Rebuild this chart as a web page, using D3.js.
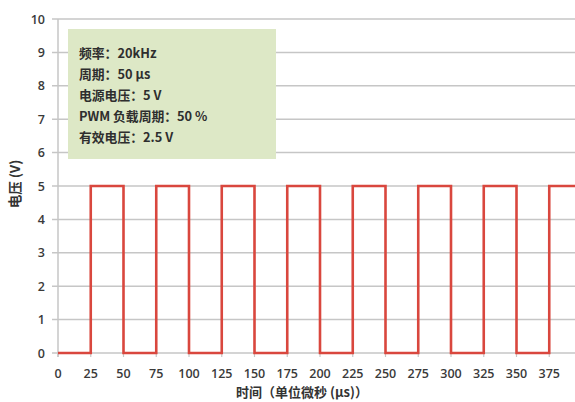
<!DOCTYPE html>
<html><head><meta charset="utf-8">
<script src="https://cdn.jsdelivr.net/npm/d3@7"></script>
<style>
html,body{margin:0;padding:0;background:#fff;overflow:hidden;}
svg{display:block;}
</style></head>
<body>
<svg id="chart" width="575" height="402"></svg>
<script>
// Data
const times = [0, 25, 25, 50, 50, 75, 75, 100, 100, 125, 125, 150, 150, 175, 175, 200, 200, 225, 225, 250, 250, 275, 275, 300, 300, 325, 325, 350, 350, 375, 375, 400];
const volts = [0, 0, 5, 5, 0, 0, 5, 5, 0, 0, 5, 5, 0, 0, 5, 5, 0, 0, 5, 5, 0, 0, 5, 5, 0, 0, 5, 5, 0, 0, 5, 5];
const xTicks = [0, 25, 50, 75, 100, 125, 150, 175, 200, 225, 250, 275, 300, 325, 350, 375];
const yTicks = [0, 1, 2, 3, 4, 5, 6, 7, 8, 9, 10];
const infoLines = ["频率：20kHz", "周期：50 μs", "电源电压：5 V", "PWM 负载周期：50 %", "有效电压：2.5 V"];
const xTitle = "时间（单位微秒 (μs)）";
const yTitle = "电压 (V)";

(function () {
const svg = d3.select("#chart");
const pLeft = 58, pTop = 19, pBottom = 353;
const x = d3.scaleLinear().domain([0, 400]).range([pLeft, pLeft + 524]);
const y = d3.scaleLinear().domain([0, 10]).range([pBottom, pTop]);

const cjk = "'Noto Sans CJK SC', 'Noto Sans', sans-serif";
const num = "'Open Sans', 'Noto Sans', sans-serif";

// gridlines
svg.append("g").selectAll("line").data(yTicks).join("line")
  .attr("x1", pLeft - 6).attr("x2", 575)
  .attr("y1", d => y(d)).attr("y2", d => y(d))
  .attr("stroke", "#c6c6c6").attr("stroke-width", 1.5);

// y axis line
svg.append("line").attr("x1", pLeft).attr("x2", pLeft)
  .attr("y1", pTop).attr("y2", pBottom + 4)
  .attr("stroke", "#c6c6c6").attr("stroke-width", 1.5);

// x tick marks
svg.append("g").selectAll("line").data(xTicks).join("line")
  .attr("x1", d => x(d)).attr("x2", d => x(d))
  .attr("y1", pBottom).attr("y2", pBottom + 4)
  .attr("stroke", "#c6c6c6").attr("stroke-width", 1.2);

// y tick labels
svg.append("g").selectAll("text").data(yTicks).join("text")
  .attr("x", 45).attr("y", d => y(d) + 4.5)
  .attr("text-anchor", "end")
  .attr("font-family", num).attr("font-size", 12.5).attr("font-weight", 600)
  .attr("fill", "#3a3a3a").text(d => d);

// x tick labels
svg.append("g").selectAll("text").data(xTicks).join("text")
  .attr("x", d => x(d)).attr("y", 377.5)
  .attr("text-anchor", "middle")
  .attr("font-family", num).attr("font-size", 12.5).attr("font-weight", 600)
  .attr("fill", "#3a3a3a").text(d => d);

// axis titles
svg.append("text").attr("x", 302).attr("y", 397)
  .attr("text-anchor", "middle")
  .attr("font-family", cjk).attr("font-size", 13).attr("font-weight", 700)
  .attr("fill", "#333").text(xTitle);

svg.append("text")
  .attr("transform", "translate(20,184) rotate(-90)")
  .attr("text-anchor", "middle")
  .attr("font-family", cjk).attr("font-size", 13.5).attr("font-weight", 700)
  .attr("fill", "#333").text(yTitle);

// signal line
const line = d3.line().x((d, i) => x(times[i])).y(d => y(d));
svg.append("path").datum(volts)
  .attr("d", line)
  .attr("fill", "none")
  .attr("stroke", "#d9473e").attr("stroke-width", 2.6)
  .attr("stroke-linejoin", "miter");

// info box
svg.append("rect").attr("x", 68).attr("y", 29).attr("width", 208).attr("height", 130)
  .attr("fill", "#dde8c6");
svg.append("g").selectAll("text").data(infoLines).join("text")
  .attr("x", 79).attr("y", (d, i) => 57.5 + i * 21)
  .attr("font-family", cjk).attr("font-size", 12.8).attr("font-weight", 700)
  .attr("fill", "#2e2e2e").text(d => d);
})();
</script>
</body></html>
